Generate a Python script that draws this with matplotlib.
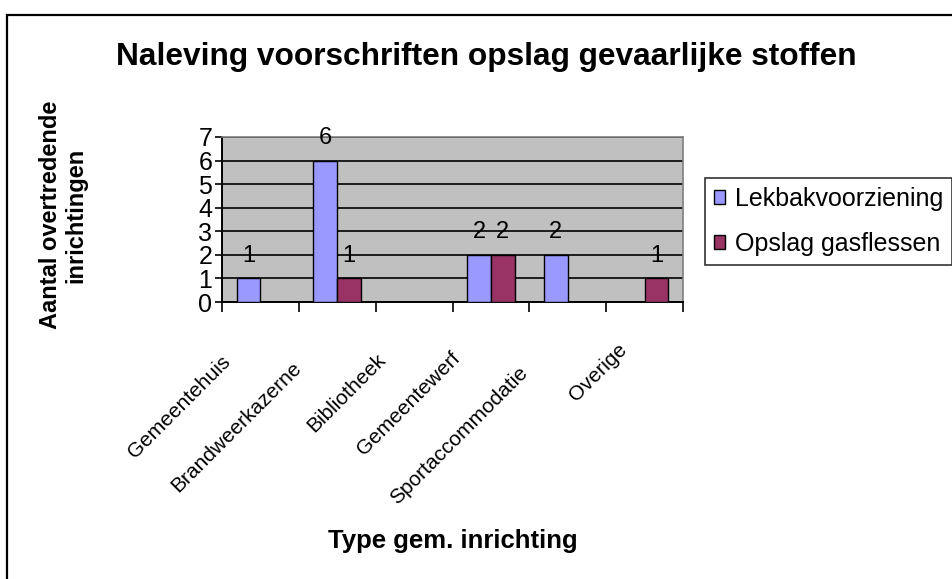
import matplotlib
matplotlib.use("Agg")
import matplotlib.pyplot as plt
from matplotlib.patches import Rectangle, Patch
from matplotlib import font_manager
import numpy as np

categories = ["Gemeentehuis", "Brandweerkazerne", "Bibliotheek", "Gemeentewerf",
              "Sportaccommodatie", "Overige"]
lekbak = [1, 6, 0, 2, 2, 0]
gasflessen = [0, 1, 0, 2, 0, 1]
series_names = ["Lekbakvoorziening", "Opslag gasflessen"]
yticks = [0, 1, 2, 3, 4, 5, 6, 7]

names = {f.name for f in font_manager.fontManager.ttflist}
base = "Liberation Sans" if "Liberation Sans" in names else "DejaVu Sans"
plt.rcParams['font.family'] = [base, 'DejaVu Sans']

W, H = 952, 579
fig = plt.figure(figsize=(W / 100, H / 100), dpi=100)

# outer border (left and top visible, rest cropped)
fig.patches.append(Rectangle((7 / W, -0.2), 1.3, 1 - 15 / H + 0.2, transform=fig.transFigure,
                             fill=False, edgecolor='black', linewidth=1.6))

ax = fig.add_axes([222 / W, 1 - 302 / H, (683 - 222) / W, (302 - 137) / H])
ax.set_facecolor('#C0C0C0')

x = np.arange(len(categories))
w = 0.31
blue = '#9999FF'
red = '#993366'
ax.bar(x - w / 2, lekbak, width=w, color=blue, edgecolor='black', linewidth=1.0, zorder=3)
ax.bar(x + w / 2, gasflessen, width=w, color=red, edgecolor='black', linewidth=1.0, zorder=3)

for xi, v in zip(x - w / 2, lekbak):
    if v:
        ax.text(xi, v + 0.95, str(v), ha='center', va='center', fontsize=17, zorder=4)
for xi, v in zip(x + w / 2, gasflessen):
    if v:
        ax.text(xi, v + 0.95, str(v), ha='center', va='center', fontsize=17, zorder=4)

ax.set_xlim(-0.5, len(categories) - 0.5)
ax.set_ylim(0, 7)
ax.set_yticks(yticks)
ax.set_yticklabels([str(t) for t in yticks], fontsize=18)
ax.yaxis.grid(True, color='black', linewidth=1.2, zorder=1)
ax.set_axisbelow(True)
ax.tick_params(axis='y', direction='out', length=5, width=1.2, pad=2)

ax.set_xticks(np.arange(len(categories) + 1) - 0.5)
ax.set_xticklabels([])
ax.tick_params(axis='x', direction='out', length=7, width=1.2)

for s in ['left', 'bottom']:
    ax.spines[s].set_color('black')
    ax.spines[s].set_linewidth(1.4)
for s in ['top', 'right']:
    ax.spines[s].set_color('#808080')
    ax.spines[s].set_linewidth(1.2)

# per-label placement offsets (pixels) mimicking the original's rotated label layout
label_dx = [-40, -46, -38, -41, -50, -27]
label_dy = [-50, -56, -48, -46, -61, -38]
for i, lab in enumerate(categories):
    ax.annotate(lab, xy=(i, 0), xycoords='data', xytext=(label_dx[i], label_dy[i]),
                textcoords='offset pixels', rotation=45, rotation_mode='anchor',
                ha='right', va='top', fontsize=15)

fig.text(486 / W, 1 - 57 / H, "Naleving voorschriften opslag gevaarlijke stoffen",
         ha='center', va='center', fontsize=22.8, fontweight='bold')
fig.text(63 / W, 1 - 215 / H, "Aantal overtredende\ninrichtingen", ha='center', va='center',
         rotation=90, fontsize=17, fontweight='bold', linespacing=1.15)
fig.text(453 / W, 1 - 541 / H, "Type gem. inrichting", ha='center', va='center',
         fontsize=18.5, fontweight='bold')

handles = [Patch(facecolor=blue, edgecolor='black', linewidth=1.0),
           Patch(facecolor=red, edgecolor='black', linewidth=1.0)]
leg = fig.legend(handles, series_names, loc='upper left', bbox_to_anchor=(705 / W, 1 - 178 / H),
                 bbox_transform=fig.transFigure, fontsize=18, frameon=True, fancybox=False,
                 edgecolor='black', handlelength=0.45, handleheight=0.45, handletextpad=0.4,
                 borderpad=0.35, labelspacing=0.85, borderaxespad=0)
leg.get_frame().set_linewidth(1.2)

fig.savefig("out.png", dpi=100)
